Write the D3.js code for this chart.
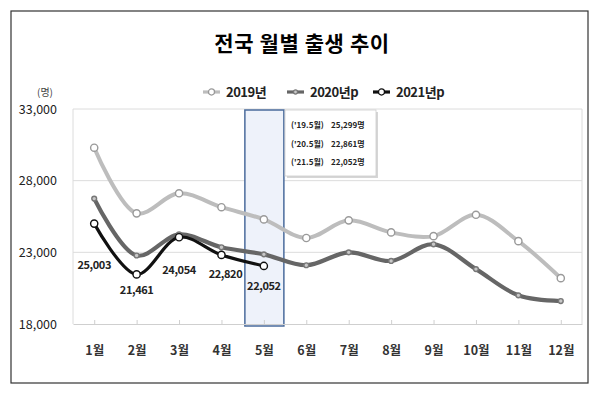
<!DOCTYPE html>
<html>
<head>
<meta charset="utf-8">
<script src="https://cdn.jsdelivr.net/npm/d3@7"></script>
<style>
  body { margin: 0; background: #fff; }
  svg text { font-family: "Noto Sans CJK KR", "Noto Sans", sans-serif; }
</style>
</head>
<body>
<svg id="chart" width="600" height="394"></svg>
<script>
// data
var months = ['1월','2월','3월','4월','5월','6월','7월','8월','9월','10월','11월','12월'];
var births2019 = [30300, 25720, 27120, 26150, 25299, 24000, 25230, 24390, 24130, 25620, 23780, 21200];
var births2020 = [26750, 22780, 24250, 23350, 22861, 22100, 23000, 22400, 23560, 21830, 20000, 19600];
var births2021 = [25003, 21461, 24054, 22820, 22052];
var yTicks = [18000, 23000, 28000, 33000];
var seriesNames = ['2019년', '2020년p', '2021년p'];
var noteLines = [["('19.5월)", '25,299명'], ["('20.5월)", '22,861명'], ["('21.5월)", '22,052명']];

var svg = d3.select('#chart');
var plot = { left: 73, right: 582, top: 109, bottom: 324 };

// frame + title
svg.append('rect')
  .attr('x', 11).attr('y', 11).attr('width', 577).attr('height', 372)
  .attr('fill', '#fff').attr('stroke', '#333').attr('stroke-width', 1.2);

svg.append('text')
  .attr('x', 302).attr('y', 51)
  .attr('text-anchor', 'middle')
  .style('font-size', '21px').style('font-weight', 'bold')
  .style('letter-spacing', '0.6px')
  .text('전국 월별 출생 추이');

var xScale = d3.scalePoint().domain(months).range([plot.left, plot.right]).padding(0.5);
var yScale = d3.scaleLinear().domain([18000, 33000]).range([plot.bottom, plot.top]);

// gridlines and plot border
svg.append('g').selectAll('line').data(yTicks.slice(1)).join('line')
  .attr('x1', plot.left).attr('x2', plot.right)
  .attr('y1', d => yScale(d)).attr('y2', d => yScale(d))
  .attr('stroke', '#dcdcdc').attr('stroke-width', 1);
[plot.left, plot.right].forEach(x => {
  svg.append('line')
    .attr('x1', x).attr('x2', x)
    .attr('y1', plot.top).attr('y2', plot.bottom)
    .attr('stroke', '#dcdcdc');
});

// highlight box for May
var mayX = xScale('5월');
svg.append('rect')
  .attr('x', mayX - 19).attr('y', plot.top + 1)
  .attr('width', 39).attr('height', plot.bottom - plot.top + 1)
  .attr('fill', '#eef2fa').attr('stroke', '#4a6b9c').attr('stroke-width', 1.5);

// x axis (ticks point up into the plot)
var xAxis = svg.append('g')
  .attr('transform', 'translate(0,' + plot.bottom + ')')
  .call(d3.axisBottom(xScale).tickSize(-4).tickSizeOuter(0));
xAxis.select('.domain').attr('stroke', '#cfcfcf');
xAxis.selectAll('.tick line').attr('stroke', '#cfcfcf');
xAxis.selectAll('.tick text')
  .attr('y', 22)
  .style('font-size', '12.5px').style('font-weight', 'bold').attr('fill', '#333');

// y axis labels
var yAxis = svg.append('g')
  .attr('transform', 'translate(' + (plot.left - 13) + ',0)')
  .call(d3.axisLeft(yScale).tickValues(yTicks).tickSize(0).tickFormat(d3.format(',')));
yAxis.select('.domain').remove();
yAxis.selectAll('.tick text')
  .style('font-size', '12.5px').attr('fill', '#222');

svg.append('text')
  .attr('x', 45).attr('y', 96).attr('text-anchor', 'middle')
  .style('font-size', '10px').attr('fill', '#444')
  .text('(명)');

// lines
var lineGen = d3.line()
  .x((d, i) => xScale(months[i]))
  .y(d => yScale(d))
  .curve(d3.curveCatmullRom.alpha(0.5));

var styles = [
  { data: births2019, stroke: '#bdbdbd', width: 4, r: 3.6, mfill: '#fff', mstroke: '#9a9a9a' },
  { data: births2020, stroke: '#666666', width: 4.2, r: 2.4, mfill: '#c8c8c8', mstroke: '#777' },
  { data: births2021, stroke: '#111111', width: 3.2, r: 3.6, mfill: '#fff', mstroke: '#111' }
];

styles.forEach(s => {
  svg.append('path')
    .attr('d', lineGen(s.data))
    .attr('fill', 'none').attr('stroke', s.stroke).attr('stroke-width', s.width)
    .attr('stroke-linejoin', 'round').attr('stroke-linecap', 'round');
  svg.append('g').selectAll('circle').data(s.data).join('circle')
    .attr('cx', (d, i) => xScale(months[i]))
    .attr('cy', d => yScale(d))
    .attr('r', s.r)
    .attr('fill', s.mfill).attr('stroke', s.mstroke).attr('stroke-width', 1.4);
});

// 2021 data labels
var labelOffsets = [[0, 45], [0, 20], [0, 37], [4, 23], [0, 24]];
svg.append('g').selectAll('text').data(births2021).join('text')
  .attr('x', (d, i) => xScale(months[i]) + labelOffsets[i][0])
  .attr('y', (d, i) => yScale(d) + labelOffsets[i][1])
  .attr('text-anchor', 'middle')
  .style('font-size', '11px').style('font-weight', 'bold')
  .style('letter-spacing', '-0.4px').attr('fill', '#222')
  .text(d3.format(','));

// annotation box
var note = svg.append('g').attr('transform', 'translate(285,110)');
note.append('rect')
  .attr('x', 2).attr('y', 2).attr('width', 91).attr('height', 66)
  .attr('fill', '#bbb').attr('opacity', 0.6);
note.append('rect')
  .attr('x', 0).attr('y', 0).attr('width', 91).attr('height', 66)
  .attr('fill', '#fff').attr('stroke', '#ccc').attr('stroke-width', 0.8);
noteLines.forEach((l, i) => {
  note.append('text').attr('x', 6).attr('y', 18 + i * 18.6)
    .style('font-size', '8px').style('font-weight', 'bold').attr('fill', '#222').text(l[0]);
  note.append('text').attr('x', 46).attr('y', 18 + i * 18.6)
    .style('font-size', '8px').style('font-weight', 'bold').attr('fill', '#222').text(l[1]);
});

// legend
var legendX = [203, 287, 373];
var legend = svg.append('g').attr('transform', 'translate(0,92)');
seriesNames.forEach((name, i) => {
  var s = styles[i];
  var g = legend.append('g').attr('transform', 'translate(' + legendX[i] + ',0)');
  g.append('line').attr('x1', 0).attr('x2', 17)
    .attr('stroke', s.stroke).attr('stroke-width', 3.2);
  g.append('circle').attr('cx', 8.5).attr('r', s.r * 0.85)
    .attr('fill', s.mfill).attr('stroke', s.mstroke).attr('stroke-width', 1.3);
  g.append('text').attr('x', 23).attr('y', 5)
    .style('font-size', '13px').style('font-weight', 'bold')
    .style('letter-spacing', '-0.5px').attr('fill', '#222')
    .text(name);
});
</script>
</body>
</html>
